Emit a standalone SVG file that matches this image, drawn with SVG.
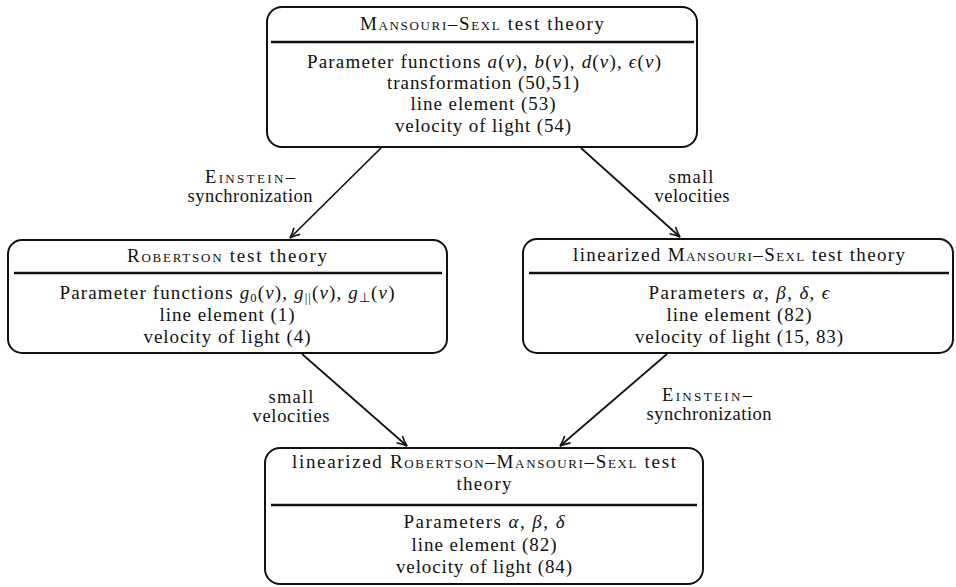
<svg xmlns="http://www.w3.org/2000/svg" width="956" height="587" viewBox="0 0 956 587">
<style>
text{font-family:"Liberation Serif","Times New Roman",serif;font-size:19px;fill:#111;text-anchor:middle}
.lbl{font-size:18.5px}
.sc{font-variant:small-caps}
.i{font-style:italic}
.sub{font-size:12.5px}
.box{fill:none;stroke:#111;stroke-width:2}
.div{stroke:#111;stroke-width:2.4}
.edge{fill:none;stroke:#111;stroke-width:1.7}
</style>
<defs>
<marker id="ah" markerUnits="userSpaceOnUse" markerWidth="14" markerHeight="12" viewBox="-11 -6 13 12" refX="0" refY="0" orient="auto">
<path d="M-10,-4.5 Q-4,-1 0,0 Q-4,1 -10,4.5" fill="none" stroke="#111" stroke-width="1.6"/>
</marker>
</defs>
<rect width="956" height="587" fill="#fff"/>
<g id="connectors">
<line class="edge" x1="381" y1="148" x2="290" y2="238" marker-end="url(#ah)"/>
<line class="edge" x1="581" y1="148" x2="680" y2="237" marker-end="url(#ah)"/>
<line class="edge" x1="302" y1="354" x2="407" y2="446" marker-end="url(#ah)"/>
<line class="edge" x1="667" y1="354" x2="560" y2="446" marker-end="url(#ah)"/>
<text class="lbl"><tspan x="250" y="183" textLength="90"><tspan class="sc">Einstein</tspan>–</tspan><tspan x="250" y="202" textLength="125">synchronization</tspan></text>
<text class="lbl"><tspan x="691" y="183" textLength="45">small</tspan><tspan x="692" y="202" textLength="75">velocities</tspan></text>
<text class="lbl"><tspan x="291" y="403" textLength="45">small</tspan><tspan x="291" y="422" textLength="77">velocities</tspan></text>
<text class="lbl"><tspan x="707" y="401" textLength="90"><tspan class="sc">Einstein</tspan>–</tspan><tspan x="709" y="420" textLength="125">synchronization</tspan></text>
</g>
<g id="mansouri-sexl">
<rect class="box" x="267" y="7" width="430" height="140" rx="15"/>
<line class="div" x1="271" y1="42" x2="694" y2="42"/>
<text x="482" y="30" textLength="244"><tspan class="sc">Mansouri–Sexl</tspan> test theory</text>
<text x="484" y="68" textLength="354">Parameter functions <tspan class="i">a</tspan>(<tspan class="i">v</tspan>), <tspan class="i">b</tspan>(<tspan class="i">v</tspan>), <tspan class="i">d</tspan>(<tspan class="i">v</tspan>), <tspan class="i">ϵ</tspan>(<tspan class="i">v</tspan>)</text>
<text x="483" y="89" textLength="192">transformation (50,51)</text>
<text x="483" y="110" textLength="145">line element (53)</text>
<text x="483" y="132" textLength="176">velocity of light (54)</text>
</g>
<g id="robertson">
<rect class="box" x="8" y="240" width="439" height="113" rx="14"/>
<line class="div" x1="14" y1="273" x2="442" y2="273"/>
<text x="227" y="262" textLength="200"><tspan class="sc">Robertson</tspan> test theory</text>
<text x="227" y="299" textLength="335">Parameter functions <tspan class="i">g</tspan><tspan class="sub" dy="3">0</tspan><tspan dy="-3">(</tspan><tspan class="i">v</tspan>), <tspan class="i">g</tspan><tspan class="sub" dy="3">||</tspan><tspan dy="-3">(</tspan><tspan class="i">v</tspan>), <tspan class="i">g</tspan><tspan class="sub" dy="3">⊥</tspan><tspan dy="-3">(</tspan><tspan class="i">v</tspan>)</text>
<text x="227" y="321" textLength="135">line element (1)</text>
<text x="227" y="343" textLength="167">velocity of light (4)</text>
</g>
<g id="linearized-ms">
<rect class="box" x="523" y="239" width="430" height="114" rx="14"/>
<line class="div" x1="529" y1="273" x2="949" y2="273"/>
<text x="739" y="261" textLength="332">linearized <tspan class="sc">Mansouri–Sexl</tspan> test theory</text>
<text x="739" y="299" textLength="181">Parameters <tspan class="i">α</tspan>, <tspan class="i">β</tspan>, <tspan class="i">δ</tspan>, <tspan class="i">ϵ</tspan></text>
<text x="739" y="321" textLength="145">line element (82)</text>
<text x="739" y="343" textLength="208">velocity of light (15, 83)</text>
</g>
<g id="linearized-rms">
<rect class="box" x="265" y="448" width="438" height="136" rx="15"/>
<line class="div" x1="271" y1="505" x2="697" y2="505"/>
<text x="484" y="468" textLength="384">linearized <tspan class="sc">Robertson–Mansouri–Sexl</tspan> test</text>
<text x="484" y="490" textLength="55">theory</text>
<text x="484" y="528" textLength="161">Parameters <tspan class="i">α</tspan>, <tspan class="i">β</tspan>, <tspan class="i">δ</tspan></text>
<text x="484" y="551" textLength="145">line element (82)</text>
<text x="484" y="573" textLength="176">velocity of light (84)</text>
</g>
</svg>
